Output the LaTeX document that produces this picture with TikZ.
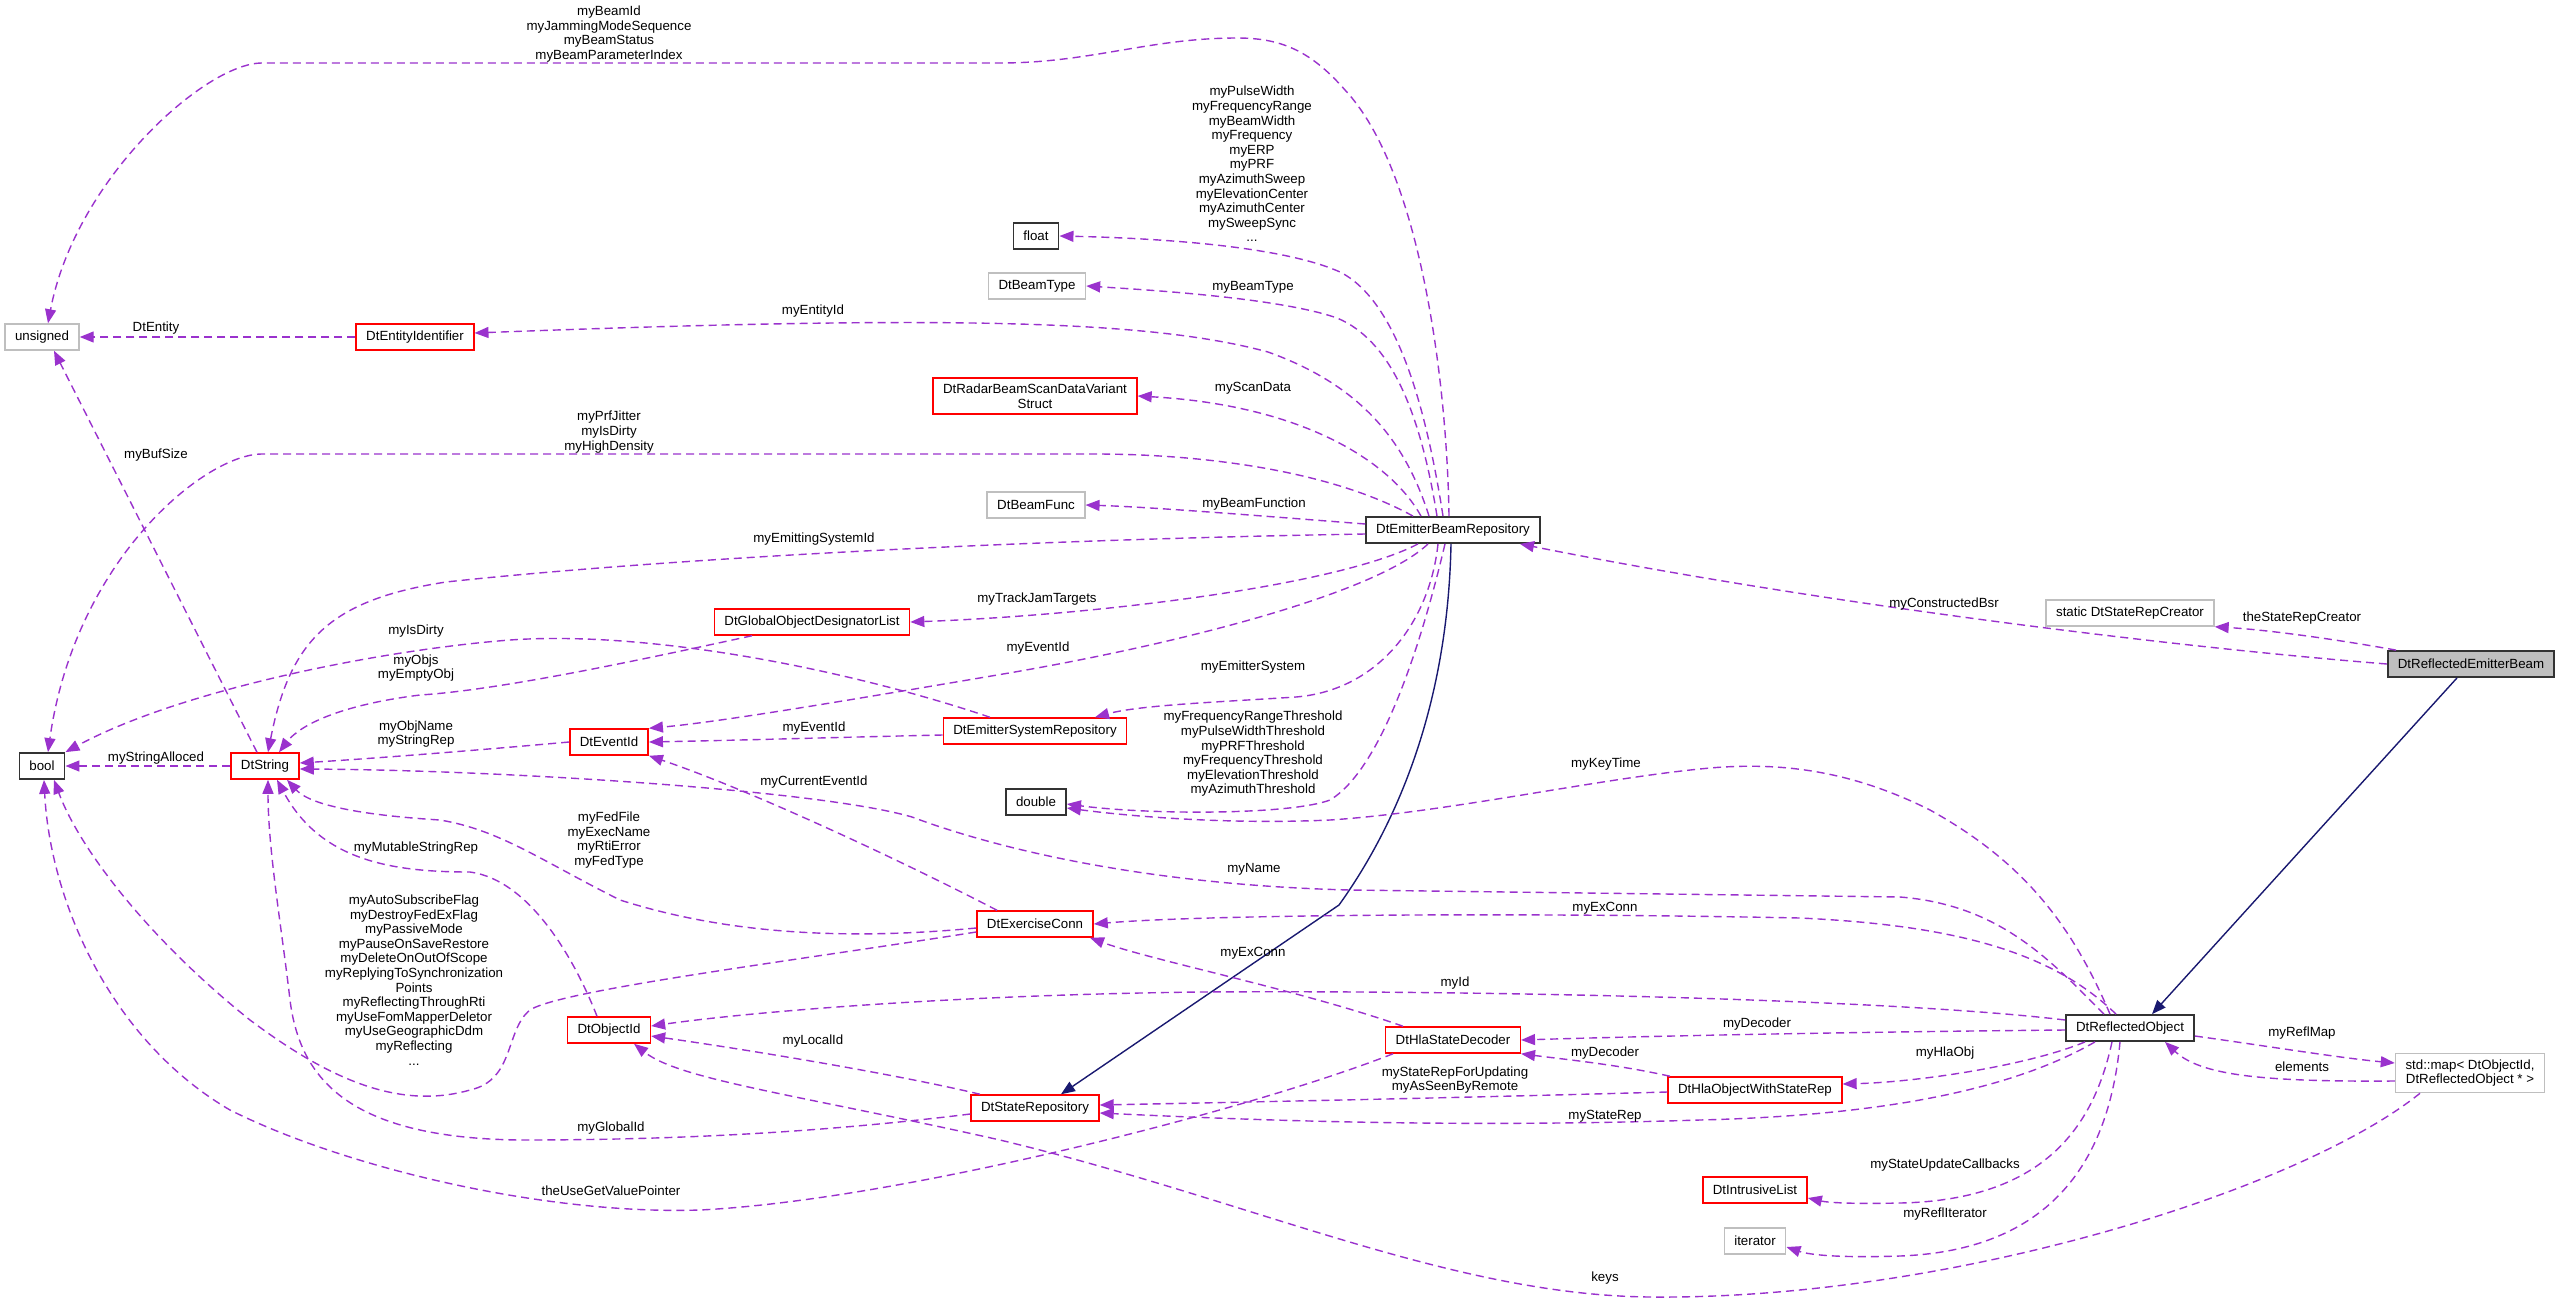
\documentclass[tikz,border=0pt]{standalone}
\usepackage{fontspec}
\setmainfont{Liberation Sans}
\usepackage{tikz}
\usetikzlibrary{arrows.meta,positioning}
\definecolor{edgepurple}{HTML}{9A32CD}
\definecolor{edgenavy}{HTML}{191970}
\definecolor{boxgray}{HTML}{BFBFBF}
\definecolor{boxred}{HTML}{FF0000}
\definecolor{boxblack}{HTML}{333333}

\begin{document}
\begin{tikzpicture}[
  x=1pt, y=-1pt,
  cls/.style={draw, line width=1.5pt, fill=white, minimum height=26pt, inner xsep=10pt, inner ysep=6pt, align=center, font=\fontsize{13.3}{14.6}\selectfont},
  redcls/.style={cls, draw=boxred},
  graycls/.style={cls, draw=boxgray},
  blackcls/.style={cls, draw=boxblack, line width=1.8pt},
  dep/.style={edgepurple, dash pattern=on 8pt off 5pt, line width=1.4pt, -{Triangle[length=14pt,width=11pt]}},
  inh/.style={edgenavy, line width=1.4pt, -{Triangle[length=14pt,width=11pt]}},
  lab/.style={align=center, inner sep=0pt, font=\fontsize{13.3}{14.6}\selectfont}
]
\useasboundingbox (0,0) rectangle (2560,1304);

\node[graycls] (unsig) at (42,337) {unsigned};
\node[redcls] (entid) at (415,337) {DtEntityIdentifier};
\node[blackcls] (flt) at (1036,236) {float};
\node[graycls] (btype) at (1037,286) {DtBeamType};
\node[redcls] (radar) at (1035,396) {DtRadarBeamScanDataVariant\\Struct};
\node[graycls] (bfunc) at (1036,505) {DtBeamFunc};
\node[blackcls] (ebr) at (1453,530) {DtEmitterBeamRepository};
\node[redcls] (godl) at (812,622) {DtGlobalObjectDesignatorList};
\node[redcls] (evid) at (609,742) {DtEventId};
\node[redcls] (esr) at (1035,731) {DtEmitterSystemRepository};
\node[blackcls] (dbl) at (1036,802) {double};
\node[blackcls] (bl) at (42,766) {bool};
\node[redcls] (dstr) at (265,766) {DtString};
\node[redcls] (exconn) at (1035,924) {DtExerciseConn};
\node[redcls] (objid) at (609,1030) {DtObjectId};
\node[redcls] (srep) at (1035,1108) {DtStateRepository};
\node[redcls] (hsd) at (1453,1040) {DtHlaStateDecoder};
\node[redcls] (hows) at (1755,1090) {DtHlaObjectWithStateRep};
\node[blackcls] (robj) at (2130,1028) {DtReflectedObject};
\node[graycls] (smap) at (2470,1073) {std::map< DtObjectId,\\DtReflectedObject * >};
\node[redcls] (ilist) at (1755,1190) {DtIntrusiveList};
\node[graycls] (iter) at (1755,1241) {iterator};
\node[graycls] (src) at (2130,613) {static DtStateRepCreator};
\node[blackcls, fill=boxgray] (reb) at (2471,664) {DtReflectedEmitterBeam};

\draw[inh] ([xshift=-2pt]ebr.south) .. controls (1448,700) and (1400,820) .. (1339,905) -- ([xshift=26pt]srep.north);
\draw[inh] ([xshift=-14pt]reb.south) -- ([xshift=22pt]robj.north);

\draw[dep] ([xshift=-4pt]ebr.north) .. controls (1447,380) and (1420,170) .. (1345,90) .. controls (1310,50) and (1280,38) .. (1237,38) .. controls (1150,38) and (1090,63) .. (1000,63) -- (262,63) .. controls (205,63) and (75,180) .. ([xshift=6pt]unsig.north);
\draw[dep] ([xshift=-10pt]ebr.north) .. controls (1425,400) and (1395,300) .. (1340,272) .. controls (1280,245) and (1150,238) .. (flt.east);
\draw[dep] ([xshift=-16pt]ebr.north) .. controls (1420,410) and (1390,340) .. (1337,318) .. controls (1280,298) and (1150,290) .. (btype.east);
\draw[dep] ([xshift=-24pt]ebr.north) .. controls (1405,440) and (1360,385) .. (1268,352) .. controls (1150,320) and (950,315) .. ([yshift=4pt]entid.east);
\draw[dep] ([xshift=-32pt]ebr.north) .. controls (1390,460) and (1300,405) .. (radar.east);
\draw[dep] ([xshift=-40pt]ebr.north) .. controls (1330,470) and (1200,454) .. (1095,454) -- (262,454) .. controls (205,454) and (75,560) .. ([xshift=6pt]bl.north);
\draw[dep] ([yshift=6pt]ebr.west) .. controls (1250,515) and (1150,507) .. (bfunc.east);
\draw[dep] ([yshift=-4pt]ebr.west) .. controls (1000,540) and (650,560) .. (446,582) .. controls (330,600) and (290,640) .. ([xshift=3pt]dstr.north);
\draw[dep] ([xshift=-35pt]ebr.south) .. controls (1340,585) and (1100,615) .. (godl.east);
\draw[dep] ([xshift=-25pt]ebr.south) .. controls (1380,590) and (1200,640) .. (1009,673) .. controls (850,700) and (720,722) .. (evid.north east);
\draw[dep] ([xshift=-15pt]ebr.south) .. controls (1430,620) and (1380,690) .. (1296,697) .. controls (1220,702) and (1140,705) .. ([xshift=60pt]esr.north);
\draw[dep] ([xshift=-8pt]ebr.south) .. controls (1420,650) and (1380,770) .. (1330,800) .. controls (1290,815) and (1150,815) .. ([yshift=-2pt]dbl.east);

\draw[dep] ([yshift=-4pt]esr.west) .. controls (850,737) and (750,740) .. (evid.east);
\draw[dep] ([xshift=-45pt]esr.north) .. controls (850,670) and (650,630) .. (510,640) .. controls (380,650) and (180,690) .. (bl.north east);
\draw[dep] ([xshift=-60pt]godl.south) .. controls (640,660) and (500,690) .. (420,695) .. controls (340,705) and (300,725) .. ([xshift=14pt]dstr.north);
\draw[dep] (evid.west) .. controls (480,750) and (380,758) .. ([yshift=3pt]dstr.east);
\draw[dep] (dstr.west) -- (bl.east);
\draw[dep] ([xshift=-8pt]dstr.north) -- ([xshift=12pt]unsig.south);
\draw[dep] (entid.west) -- (unsig.east);

\draw[dep] ([xshift=-26pt]robj.north) .. controls (2050,960) and (2000,905) .. (1900,897) -- (1350,890) .. controls (1150,885) and (1000,850) .. (912,817) .. controls (820,790) and (500,770) .. ([yshift=-3pt]dstr.east);
\draw[dep] ([yshift=-4pt]exconn.west) .. controls (850,940) and (730,935) .. (620,900) .. controls (540,860) and (500,830) .. (440,820) .. controls (360,815) and (310,805) .. ([xshift=22pt]dstr.south);
\draw[dep] ([xshift=-12pt]objid.north) .. controls (575,960) and (530,880) .. (470,872) .. controls (390,872) and (320,860) .. ([xshift=12pt]dstr.south);
\draw[dep] ([yshift=-8pt]exconn.west) .. controls (800,960) and (560,990) .. (530,1010) .. controls (505,1030) and (515,1080) .. (470,1090) .. controls (400,1110) and (330,1080) .. (250,1020) .. controls (150,940) and (80,850) .. ([xshift=12pt]bl.south);
\draw[dep] ([yshift=-6pt]srep.west) .. controls (800,1135) and (650,1140) .. (520,1140) .. controls (350,1138) and (300,1080) .. (290,1000) .. controls (282,930) and (268,850) .. ([xshift=3pt]dstr.south);
\draw[dep] ([xshift=-60pt]hsd.south) .. controls (1250,1110) and (900,1200) .. (700,1210) .. controls (550,1215) and (350,1170) .. (230,1110) .. controls (110,1040) and (50,900) .. ([xshift=2pt]bl.south);
\draw[dep] ([xshift=-38pt]exconn.north) .. controls (900,860) and (750,790) .. (evid.south east);

\draw[dep] ([yshift=8pt]robj.west) .. controls (1900,1000) and (1500,990) .. (1200,992) .. controls (950,995) and (750,1012) .. ([yshift=4pt]objid.east);
\draw[dep] ([xshift=-55pt]srep.north) .. controls (900,1075) and (750,1050) .. ([yshift=-6pt]objid.east);
\draw[dep] ([xshift=-50pt]smap.south) .. controls (2300,1190) and (1950,1300) .. (1650,1297) .. controls (1450,1295) and (1250,1200) .. (1000,1140) .. controls (800,1095) and (680,1080) .. ([xshift=25pt]objid.south);
\draw[dep] ([xshift=-14pt]robj.north) .. controls (2050,950) and (1950,925) .. (1800,918) .. controls (1500,912) and (1200,915) .. (exconn.east);
\draw[dep] ([xshift=-50pt]hsd.north) .. controls (1300,990) and (1150,960) .. ([xshift=55pt]exconn.south);
\draw[dep] ([yshift=-2pt]robj.west) .. controls (1850,1032) and (1650,1036) .. (hsd.east);
\draw[dep] ([xshift=-85pt]hows.north) .. controls (1620,1065) and (1570,1060) .. (hsd.south east);
\draw[dep] ([yshift=-2pt]hows.west) .. controls (1450,1098) and (1250,1102) .. ([yshift=3pt]srep.east);
\draw[dep] ([xshift=-35pt]robj.south) .. controls (2020,1085) and (1900,1115) .. (1700,1120) .. controls (1450,1128) and (1250,1120) .. ([yshift=-5pt]srep.east);
\draw[dep] ([xshift=-45pt]robj.south) .. controls (2030,1065) and (1920,1082) .. ([yshift=6pt]hows.east);
\draw[dep] ([xshift=-18pt]robj.south) .. controls (2095,1120) and (2050,1200) .. (1900,1203) .. controls (1860,1204) and (1830,1203) .. ([yshift=-8pt]ilist.east);
\draw[dep] ([xshift=-10pt]robj.south) .. controls (2110,1150) and (2060,1250) .. (1900,1256) .. controls (1840,1258) and (1810,1255) .. ([yshift=-6pt]iter.east);
\draw[dep] ([yshift=-8pt]robj.east) .. controls (2260,1045) and (2340,1058) .. ([yshift=10pt]smap.west);
\draw[dep] ([yshift=-8pt]smap.west) .. controls (2260,1082) and (2200,1075) .. ([xshift=35pt]robj.south);
\draw[dep] ([xshift=-20pt]robj.north) .. controls (2070,920) and (2020,860) .. (1930,810) .. controls (1850,770) and (1780,762) .. (1710,768) .. controls (1600,778) and (1450,812) .. (1330,820) .. controls (1220,825) and (1120,815) .. ([yshift=-6pt]dbl.east);
\draw[dep] (reb.west) .. controls (2150,645) and (1800,600) .. ([xshift=67pt]ebr.south);
\draw[dep] ([xshift=-75pt]reb.north) .. controls (2340,640) and (2270,630) .. (src.south east);

\node[lab] (lbeamid) at (609,34) {myBeamId\\myJammingModeSequence\\myBeamStatus\\myBeamParameterIndex};
\node[lab] (lpulse) at (1252,164) {myPulseWidth\\myFrequencyRange\\myBeamWidth\\myFrequency\\myERP\\myPRF\\myAzimuthSweep\\myElevationCenter\\myAzimuthCenter\\mySweepSync\\...};
\node[lab] (lbtype) at (1253,287) {myBeamType};
\node[lab] (lentid) at (813,311) {myEntityId};
\node[lab] (ldtent) at (156,328) {DtEntity};
\node[lab] (lscan) at (1253,388) {myScanData};
\node[lab] (lprf) at (609,432) {myPrfJitter\\myIsDirty\\myHighDensity};
\node[lab] (lbuf) at (156,455) {myBufSize};
\node[lab] (lbfunc) at (1254,504) {myBeamFunction};
\node[lab] (lemsys) at (814,539) {myEmittingSystemId};
\node[lab] (ltrack) at (1037,599) {myTrackJamTargets};
\node[lab] (lbsr) at (1944,604) {myConstructedBsr};
\node[lab] (lsrc) at (2302,618) {theStateRepCreator};
\node[lab] (ldirty) at (416,631) {myIsDirty};
\node[lab] (levup) at (1038,648) {myEventId};
\node[lab] (lobjs) at (416,668) {myObjs\\myEmptyObj};
\node[lab] (lemitsys) at (1253,667) {myEmitterSystem};
\node[lab] (levlow) at (814,728) {myEventId};
\node[lab] (lobjname) at (416,734) {myObjName\\myStringRep};
\node[lab] (lthresh) at (1253,754) {myFrequencyRangeThreshold\\myPulseWidthThreshold\\myPRFThreshold\\myFrequencyThreshold\\myElevationThreshold\\myAzimuthThreshold};
\node[lab] (lalloc) at (156,758) {myStringAlloced};
\node[lab] (lkey) at (1606,764) {myKeyTime};
\node[lab] (lcurev) at (814,782) {myCurrentEventId};
\node[lab] (lfed) at (609,840) {myFedFile\\myExecName\\myRtiError\\myFedType};
\node[lab] (lmut) at (416,848) {myMutableStringRep};
\node[lab] (lname) at (1254,869) {myName};
\node[lab] (lexup) at (1605,908) {myExConn};
\node[lab] (lexlow) at (1253,953) {myExConn};
\node[lab] (lflags) at (414,980) {myAutoSubscribeFlag\\myDestroyFedExFlag\\myPassiveMode\\myPauseOnSaveRestore\\myDeleteOnOutOfScope\\myReplyingToSynchronization\\Points\\myReflectingThroughRti\\myUseFomMapperDeletor\\myUseGeographicDdm\\myReflecting\\...};
\node[lab] (lid) at (1455,983) {myId};
\node[lab] (ldecup) at (1757,1024) {myDecoder};
\node[lab] (lreflmap) at (2302,1033) {myReflMap};
\node[lab] (llocal) at (813,1041) {myLocalId};
\node[lab] (ldeclow) at (1605,1053) {myDecoder};
\node[lab] (lhla) at (1945,1053) {myHlaObj};
\node[lab] (lelem) at (2302,1067) {elements};
\node[lab] (lsrupd) at (1455,1080) {myStateRepForUpdating\\myAsSeenByRemote};
\node[lab] (lsrep) at (1605,1116) {myStateRep};
\node[lab] (lglobal) at (611,1128) {myGlobalId};
\node[lab] (lcallb) at (1945,1165) {myStateUpdateCallbacks};
\node[lab] (lgetval) at (611,1191) {theUseGetValuePointer};
\node[lab] (lrefliter) at (1945,1214) {myReflIterator};
\node[lab] (lkeys) at (1605,1278) {keys};
\end{tikzpicture}
\end{document}
